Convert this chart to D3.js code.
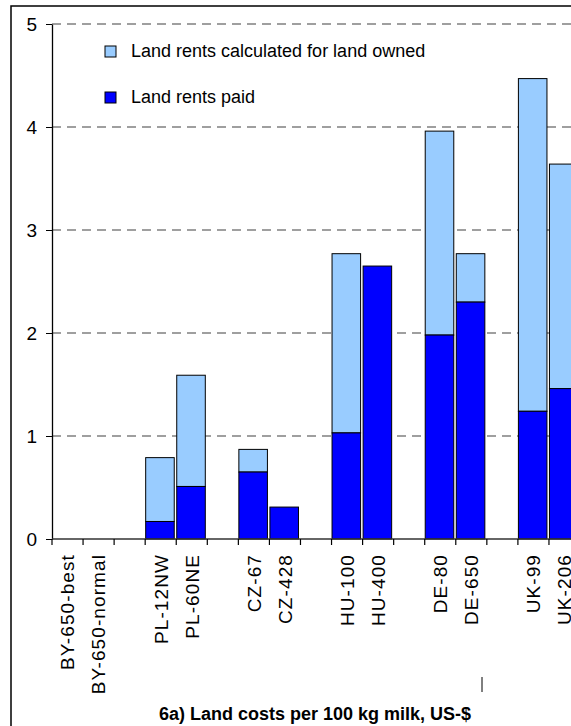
<!DOCTYPE html>
<html>
<head>
<meta charset="utf-8">
<script src="https://cdn.jsdelivr.net/npm/d3@7"></script>
<style>
  body { margin: 0; background: #fff; }
  svg { display: block; font-family: "Liberation Sans", Arial, sans-serif; }
</style>
</head>
<body>
<svg width="571" height="726"></svg>
<script>
// farms, in pairs per country
const groups = [
  ["BY-650-best", "BY-650-normal"],
  ["PL-12NW", "PL-60NE"],
  ["CZ-67", "CZ-428"],
  ["HU-100", "HU-400"],
  ["DE-80", "DE-650"],
  ["UK-99", "UK-206"]
];
const paid  = [0, 0, 0.17, 0.51, 0.65, 0.31, 1.03, 2.65, 1.98, 2.30, 1.24, 1.46];
const owned = [0, 0, 0.62, 1.08, 0.22, 0.00, 1.74, 0.00, 1.98, 0.47, 3.23, 2.18];
const yTicks = [0, 1, 2, 3, 4, 5];
const seriesNames = ["Land rents calculated for land owned", "Land rents paid"];
const seriesColors = ["#99ccff", "#0000ff"];
const title = "6a) Land costs per 100 kg milk, US-$";

const farms = groups.flat();
// insert an empty slot after every pair
const slots = [];
groups.forEach((g, i) => { slots.push(...g); slots.push("gap" + i); });
const data = farms.map((f, i) => ({ farm: f, paid: paid[i], owned: owned[i] }));

const svg = d3.select("svg");
const x0 = 52, slotW = 31.06;
const x = d3.scaleBand().domain(slots).range([x0, x0 + slotW * slots.length]).padding(0);
const y = d3.scaleLinear().domain([0, 5]).range([539, 24]);

// outer frame
svg.append("rect")
  .attr("x", 11).attr("y", 6).attr("width", 620).attr("height", 760)
  .attr("fill", "none").attr("stroke", "#000").attr("stroke-width", 1.5);

// dashed grid
svg.append("g").selectAll("line")
  .data(yTicks.filter(d => d > 0))
  .join("line")
  .attr("x1", x0).attr("x2", 640)
  .attr("y1", d => y(d)).attr("y2", d => y(d))
  .attr("stroke", "#808080").attr("stroke-width", 1.3)
  .attr("stroke-dasharray", "9,6");

// stacked bars
const bars = svg.append("g");
bars.selectAll(".owned")
  .data(data.filter(d => d.owned > 0))
  .join("rect")
  .attr("class", "owned")
  .attr("x", d => x(d.farm) + 0.5)
  .attr("width", x.bandwidth() - 2.5)
  .attr("y", d => y(d.paid + d.owned))
  .attr("height", d => y(d.paid) - y(d.paid + d.owned))
  .attr("fill", seriesColors[0]).attr("stroke", "#000").attr("stroke-width", 1);
bars.selectAll(".paid")
  .data(data.filter(d => d.paid > 0))
  .join("rect")
  .attr("class", "paid")
  .attr("x", d => x(d.farm) + 0.5)
  .attr("width", x.bandwidth() - 2.5)
  .attr("y", d => y(d.paid))
  .attr("height", d => y(0) - y(d.paid))
  .attr("fill", seriesColors[1]).attr("stroke", "#000").attr("stroke-width", 1);

// y axis
const yAxis = svg.append("g")
  .attr("transform", `translate(${x0},0)`)
  .call(d3.axisLeft(y).tickValues(yTicks).tickFormat(d3.format("d"))
    .tickSize(6).tickSizeOuter(0).tickPadding(9));
yAxis.select(".domain").attr("stroke", "#000").attr("stroke-width", 1.3);
yAxis.selectAll("text").attr("font-size", 19).attr("font-family", "Liberation Sans, Arial").attr("fill", "#000");

// x axis, ticks on slot boundaries
const bounds = slots.map(s => x(s)).concat([x.range()[1]]);
svg.append("line")
  .attr("x1", x0).attr("x2", 640).attr("y1", y(0)).attr("y2", y(0))
  .attr("stroke", "#333").attr("stroke-width", 1.3);
svg.append("g").selectAll("line")
  .data(bounds)
  .join("line")
  .attr("x1", d => d).attr("x2", d => d)
  .attr("y1", y(0)).attr("y2", y(0) + 6)
  .attr("stroke", "#000").attr("stroke-width", 1.2);

svg.append("g").selectAll("text")
  .data(farms)
  .join("text")
  .attr("transform", d => `translate(${x(d) + x.bandwidth() / 2},554) rotate(-90)`)
  .attr("text-anchor", "end")
  .attr("dy", "0.36em")
  .attr("font-size", 19)
  .attr("letter-spacing", 1.1)
  .text(d => d);

// legend
const legend = svg.append("g");
seriesNames.forEach((name, i) => {
  const ly = 51 + i * 46;
  legend.append("rect")
    .attr("x", 105).attr("y", ly - 5).attr("width", 11).attr("height", 11)
    .attr("fill", seriesColors[i]).attr("stroke", "#000").attr("stroke-width", 1);
  legend.append("text")
    .attr("x", 131).attr("y", ly).attr("dy", "0.35em")
    .attr("font-size", 18)
    .text(name);
});

// stray mark below the labels
svg.append("line").attr("x1", 482).attr("x2", 482).attr("y1", 677).attr("y2", 692)
  .attr("stroke", "#000").attr("stroke-width", 1);

// title
svg.append("text")
  .attr("x", 315).attr("y", 720)
  .attr("text-anchor", "middle")
  .attr("font-size", 18).attr("font-weight", "bold")
  .text(title);
</script>
</body>
</html>
